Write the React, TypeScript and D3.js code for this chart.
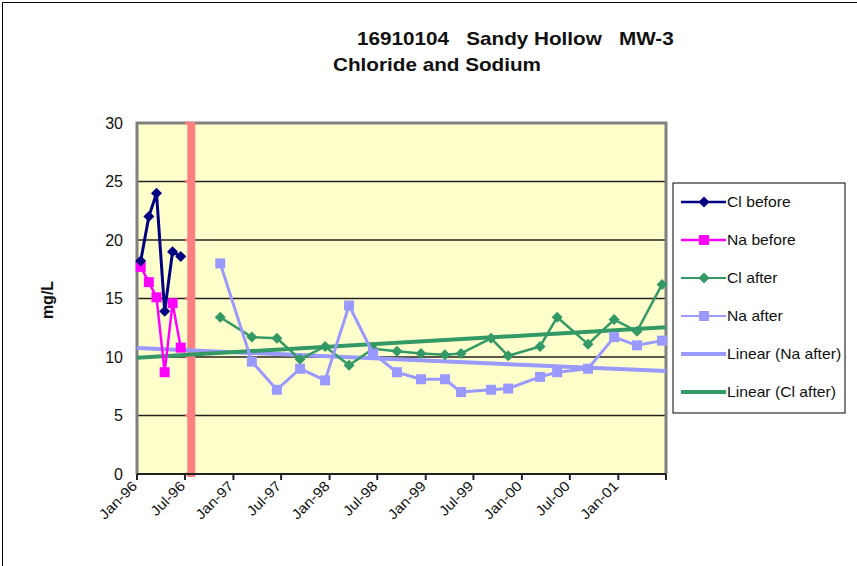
import * as d3 from "d3";

// sample dates and values
const beforeDates = ["1996-01-15", "1996-02-15", "1996-03-15", "1996-04-15", "1996-05-15", "1996-06-15"];
const clBefore = [18.2, 22.0, 24.0, 13.9, 19.0, 18.6];
const naBefore = [17.7, 16.4, 15.1, 8.7, 14.6, 10.8];

const afterDates = [
  "1996-11-12", "1997-03-12", "1997-06-15", "1997-09-11", "1997-12-15",
  "1998-03-16", "1998-06-15", "1998-09-14", "1998-12-14", "1999-03-15",
  "1999-05-15", "1999-09-06", "1999-11-10", "2000-03-10", "2000-05-14",
  "2000-09-08", "2000-12-16", "2001-03-13", "2001-06-16",
];
const clAfter = [13.4, 11.7, 11.6, 9.8, 10.9, 9.3, 10.7, 10.5, 10.3, 10.2, 10.3, 11.6, 10.1, 10.9, 13.4, 11.1, 13.2, 12.2, 16.2];
const naAfter = [18.0, 9.6, 7.2, 9.0, 8.0, 14.4, 10.3, 8.7, 8.1, 8.1, 7.0, 7.2, 7.3, 8.3, 8.7, 9.0, 11.7, 11.0, 11.4];

const treatmentDate = "1996-07-25";
const tickLabels = ["Jan-96", "Jul-96", "Jan-97", "Jul-97", "Jan-98", "Jul-98", "Jan-99", "Jul-99", "Jan-00", "Jul-00", "Jan-01"];
const yTicks = [0, 5, 10, 15, 20, 25, 30];

const legendItems = [
  { name: "Cl before", color: "#000080", marker: "diamond", width: 2.5 },
  { name: "Na before", color: "#FF00FF", marker: "square", width: 2.5 },
  { name: "Cl after", color: "#339966", marker: "diamond", width: 2 },
  { name: "Na after", color: "#9999FF", marker: "square", width: 2 },
  { name: "Linear (Na after)", color: "#9999FF", marker: null, width: 4 },
  { name: "Linear (Cl after)", color: "#339966", marker: null, width: 4 },
];

const parse = d3.utcParse("%Y-%m-%d");
const font = "'Liberation Sans', Arial, sans-serif";

const left = 137, right = 666, top = 123, bottom = 474;

const x = d3.scaleUtc()
  .domain([new Date(Date.UTC(1996, 0, 1)), new Date(Date.UTC(2001, 6, 1))])
  .range([left, right]);
const y = d3.scaleLinear().domain([0, 30]).range([bottom, top]);

// least squares fit like Excel's linear trendline
const fit = (dates: Date[], vals: number[]) => {
  const xs = dates.map((d) => +d);
  const mx = d3.mean(xs)!;
  const my = d3.mean(vals)!;
  let num = 0, den = 0;
  xs.forEach((xv, i) => {
    num += (xv - mx) * (vals[i] - my);
    den += (xv - mx) * (xv - mx);
  });
  const b = num / den;
  return (t: number) => my + b * (t - mx);
};

const Marker = ({ type, cx, cy, color }: { type: string | null; cx: number; cy: number; color: string }) => {
  if (type === "diamond")
    return <path d={`M${cx},${cy - 5.5}L${cx + 5.5},${cy}L${cx},${cy + 5.5}L${cx - 5.5},${cy}Z`} fill={color} />;
  if (type === "square") return <rect x={cx - 5} y={cy - 5} width={10} height={10} fill={color} />;
  return null;
};

const Series = ({ dates, vals, color, marker, width }: any) => {
  const pts: [number, number][] = dates.map((d: Date, i: number) => [x(d), y(vals[i])]);
  const line = d3.line();
  return (
    <g>
      <path d={line(pts)!} fill="none" stroke={color} strokeWidth={width} strokeLinejoin="round" />
      {pts.map((p, i) => (
        <Marker key={i} type={marker} cx={p[0]} cy={p[1]} color={color} />
      ))}
    </g>
  );
};

export default function App() {
  const bDates = beforeDates.map((d) => parse(d)!);
  const aDates = afterDates.map((d) => parse(d)!);
  const [d0, d1] = x.domain();
  const naFit = fit(aDates, naAfter);
  const clFit = fit(aDates, clAfter);
  const ticks = d3.utcMonth.every(6)!.range(d0, new Date(+d1 + 1));
  const redX = x(parse(treatmentDate)!);

  return (
    <svg width={857} height={566} style={{ position: "absolute", left: 0, top: 0 }} fontFamily={font}>
      <rect x={0} y={0} width={857} height={566} fill="#fff" />
      <path d="M2.5,566V2.5H857" fill="none" stroke="#000" strokeWidth={1} />

      <text transform="translate(357,45) scale(1.15,1)" fontSize={18} fontWeight="bold" fill="#111" style={{ whiteSpace: "pre" }}>
        16910104   Sandy Hollow   MW-3
      </text>
      <text transform="translate(437,71) scale(1.15,1)" fontSize={18} fontWeight="bold" fill="#111" textAnchor="middle">
        Chloride and Sodium
      </text>

      <rect x={left} y={top} width={right - left} height={bottom - top} fill="#FFFFCC" />
      {yTicks.slice(1, -1).map((v) => (
        <line key={v} x1={left} x2={right} y1={y(v)} y2={y(v)} stroke="#222" strokeWidth={1.5} />
      ))}
      <path d={`M${left},${bottom}V${top}H${right}V${bottom}`} fill="none" stroke="#808080" strokeWidth={3} />

      {/* treatment line */}
      <line x1={redX} x2={redX} y1={top - 1} y2={bottom + 3} stroke="#FF8080" strokeWidth={8} />
      {yTicks.map((v) => (
        <rect key={v} x={redX - 6} y={y(v) - 1.5} width={4} height={3} fill="#FF8080" />
      ))}

      {/* axis */}
      <line x1={left} x2={right} y1={bottom} y2={bottom} stroke="#222" strokeWidth={2} />
      {ticks.map((t, i) => (
        <g key={i}>
          <line x1={x(t)} x2={x(t)} y1={bottom} y2={bottom + 6} stroke="#222" strokeWidth={2} />
          {tickLabels[i] && (
            <text
              transform={`translate(${x(t) + 1},${bottom + 13}) rotate(-45) scale(1.1,1)`}
              textAnchor="end"
              fontSize={14}
              fill="#111"
            >
              {tickLabels[i]}
            </text>
          )}
        </g>
      ))}
      {yTicks.map((v) => (
        <text key={v} x={123} y={y(v) + 5.5} textAnchor="end" fontSize={16} fill="#111">
          {v}
        </text>
      ))}
      <text transform="translate(53,300) rotate(-90)" textAnchor="middle" fontSize={16} fontWeight="bold" fill="#111">
        mg/L
      </text>

      {/* trend lines */}
      <line x1={left} x2={right} y1={y(naFit(+d0))} y2={y(naFit(+d1))} stroke="#9999FF" strokeWidth={4} />
      <line x1={left} x2={right} y1={y(clFit(+d0))} y2={y(clFit(+d1))} stroke="#339966" strokeWidth={4} />

      <Series dates={aDates} vals={clAfter} color="#339966" marker="diamond" width={2.5} />
      <Series dates={aDates} vals={naAfter} color="#9999FF" marker="square" width={3} />
      <Series dates={bDates} vals={naBefore} color="#FF00FF" marker="square" width={2.5} />
      <Series dates={bDates} vals={clBefore} color="#000080" marker="diamond" width={3} />

      {/* legend */}
      <rect x={673} y={183} width={172} height={230} fill="#fff" stroke="#000" strokeWidth={1} />
      {legendItems.map((d, i) => {
        const ly = 202 + i * 38;
        return (
          <g key={d.name}>
            <line x1={681} x2={726} y1={ly} y2={ly} stroke={d.color} strokeWidth={d.width} />
            <Marker type={d.marker} cx={704} cy={ly} color={d.color} />
            <text transform={`translate(727,${ly + 4.5}) scale(1.12,1)`} fontSize={14} fill="#111">
              {d.name}
            </text>
          </g>
        );
      })}
    </svg>
  );
}
